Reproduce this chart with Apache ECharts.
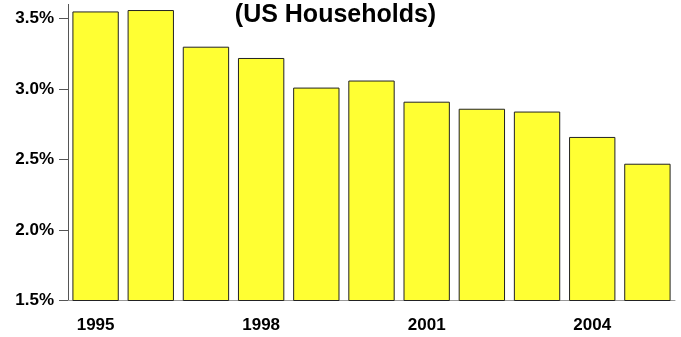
<!DOCTYPE html>
<html>
<head>
<meta charset="utf-8">
<script src="https://cdn.jsdelivr.net/npm/echarts@6/dist/echarts.min.js"></script>
<style>
  html, body { margin: 0; padding: 0; background: #fff; }
  #chart { width: 681px; height: 337px; }
</style>
</head>
<body>
<div id="chart"></div>
<script>
// Share of US households, by year
const years = ['1995', '1996', '1997', '1998', '1999', '2000', '2001', '2002', '2003', '2004', '2005'];
const shares = [3.55, 3.56, 3.30, 3.22, 3.01, 3.06, 2.91, 2.86, 2.84, 2.66, 2.47];
const yTicks = [1.5, 2.0, 2.5, 3.0, 3.5];
const titleText = '(US Households)';

const fontFamily = 'Arial, "Liberation Sans", Helvetica, sans-serif';
const chart = echarts.init(document.getElementById('chart'), null, { renderer: 'canvas' });

chart.setOption({
  animation: false,
  backgroundColor: '#ffffff',
  title: {
    text: titleText,
    left: 335.5,
    top: 3,
    padding: 0,
    textAlign: 'center',
    textStyle: { fontFamily, fontWeight: 'bold', fontSize: 25, color: '#000' }
  },
  grid: { left: 68, right: 6, top: 4.4, bottom: 36.5, containLabel: false },
  xAxis: {
    type: 'category',
    data: years,
    axisLine: { show: true, lineStyle: { color: '#999', width: 1 } },
    axisTick: { show: false },
    axisLabel: {
      interval: 2,
      margin: 16,
      fontFamily, fontWeight: 'bold', fontSize: 17, color: '#000'
    }
  },
  yAxis: {
    type: 'value',
    min: 1.5,
    max: 3.6,
    interval: 0.5,
    splitLine: { show: false },
    axisLine: { show: true, lineStyle: { color: '#555', width: 1 } },
    axisTick: {
      show: true, length: 9, customValues: yTicks,
      lineStyle: { color: '#555', width: 1 }
    },
    axisLabel: {
      customValues: yTicks,
      margin: 14,
      fontFamily, fontWeight: 'bold', fontSize: 17, color: '#000',
      formatter: v => v.toFixed(1) + '%'
    }
  },
  series: [{
    type: 'bar',
    data: shares,
    barCategoryGap: '16%',
    itemStyle: {
      color: '#ffff33',
      borderColor: '#222',
      borderWidth: 1
    }
  }]
});
</script>
</body>
</html>
